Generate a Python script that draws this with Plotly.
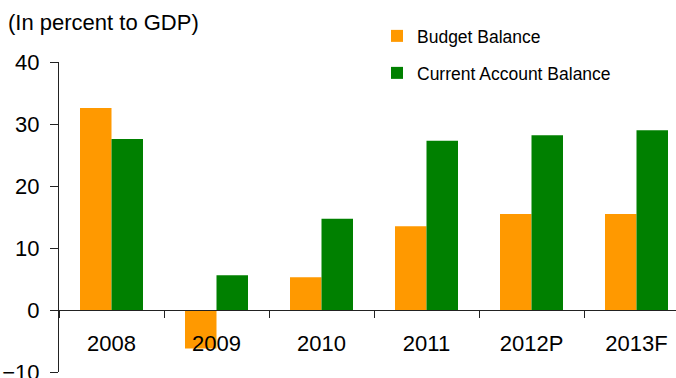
import plotly.graph_objects as go

categories = ["2008", "2009", "2010", "2011", "2012P", "2013F"]
budget_balance = [32.6, -6.2, 5.3, 13.5, 15.5, 15.5]
current_account = [27.6, 5.6, 14.7, 27.3, 28.2, 29.0]
y_ticks = [-10, 0, 10, 20, 30, 40]

FONT = "Liberation Sans, Arial, sans-serif"
W, H = 676, 378
L, R, T, B = 59, 0, 62, 6
cat_px = 105.0
plot_w = W - L - R

fig = go.Figure()
fig.add_trace(go.Bar(x=categories, y=budget_balance, name="Budget Balance",
                     marker=dict(color="#FF9900", line=dict(width=0)),
                     legend="legend", showlegend=True))
fig.add_trace(go.Bar(x=categories, y=current_account, name="Current Account Balance",
                     marker=dict(color="#008000", line=dict(width=0)),
                     legend="legend2", showlegend=True))

fig.update_layout(
    width=W, height=H,
    showlegend=True,
    margin=dict(l=L, r=R, t=T, b=B, autoexpand=False),
    paper_bgcolor="white", plot_bgcolor="white",
    font=dict(family=FONT, size=22, color="#000000"),
    barmode="group", bargap=0.4, bargroupgap=0,
    title=dict(text="(In percent to GDP)", x=8 / W, xanchor="left", xref="container",
               y=1 - 22 / H, yanchor="middle", yref="container",
               font=dict(family=FONT, size=22, color="#000000")),
    legend=dict(x=377 / W, xanchor="left", xref="container",
                y=1 - 36 / H, yanchor="middle", yref="container",
                font=dict(family=FONT, size=17.5, color="#000000"),
                bgcolor="rgba(0,0,0,0)", borderwidth=0, visible=True),
    legend2=dict(x=377 / W, xanchor="left", xref="container",
                 y=1 - 73 / H, yanchor="middle", yref="container",
                 font=dict(family=FONT, size=17.5, color="#000000"),
                 bgcolor="rgba(0,0,0,0)", borderwidth=0, visible=True),
    xaxis=dict(type="category", range=[-0.5, -0.5 + plot_w / cat_px],
               anchor="free", position=0.2,
               showline=True, linecolor="#222222", linewidth=1,
               ticks="outside", tickson="boundaries", ticklen=7, tickcolor="#222222",
               ticklabelstandoff=14,
               tickfont=dict(family=FONT, size=22, color="#000000"),
               showgrid=False, zeroline=False),
    yaxis=dict(range=[-10, 40], tickvals=y_ticks,
               showline=True, linecolor="#222222", linewidth=1,
               ticks="outside", ticklen=8, tickcolor="#222222",
               ticklabelstandoff=6, ticklabeloverflow="allow",
               tickfont=dict(family=FONT, size=22, color="#000000"),
               showgrid=False, zeroline=False),
)

fig.write_html("out.html")
